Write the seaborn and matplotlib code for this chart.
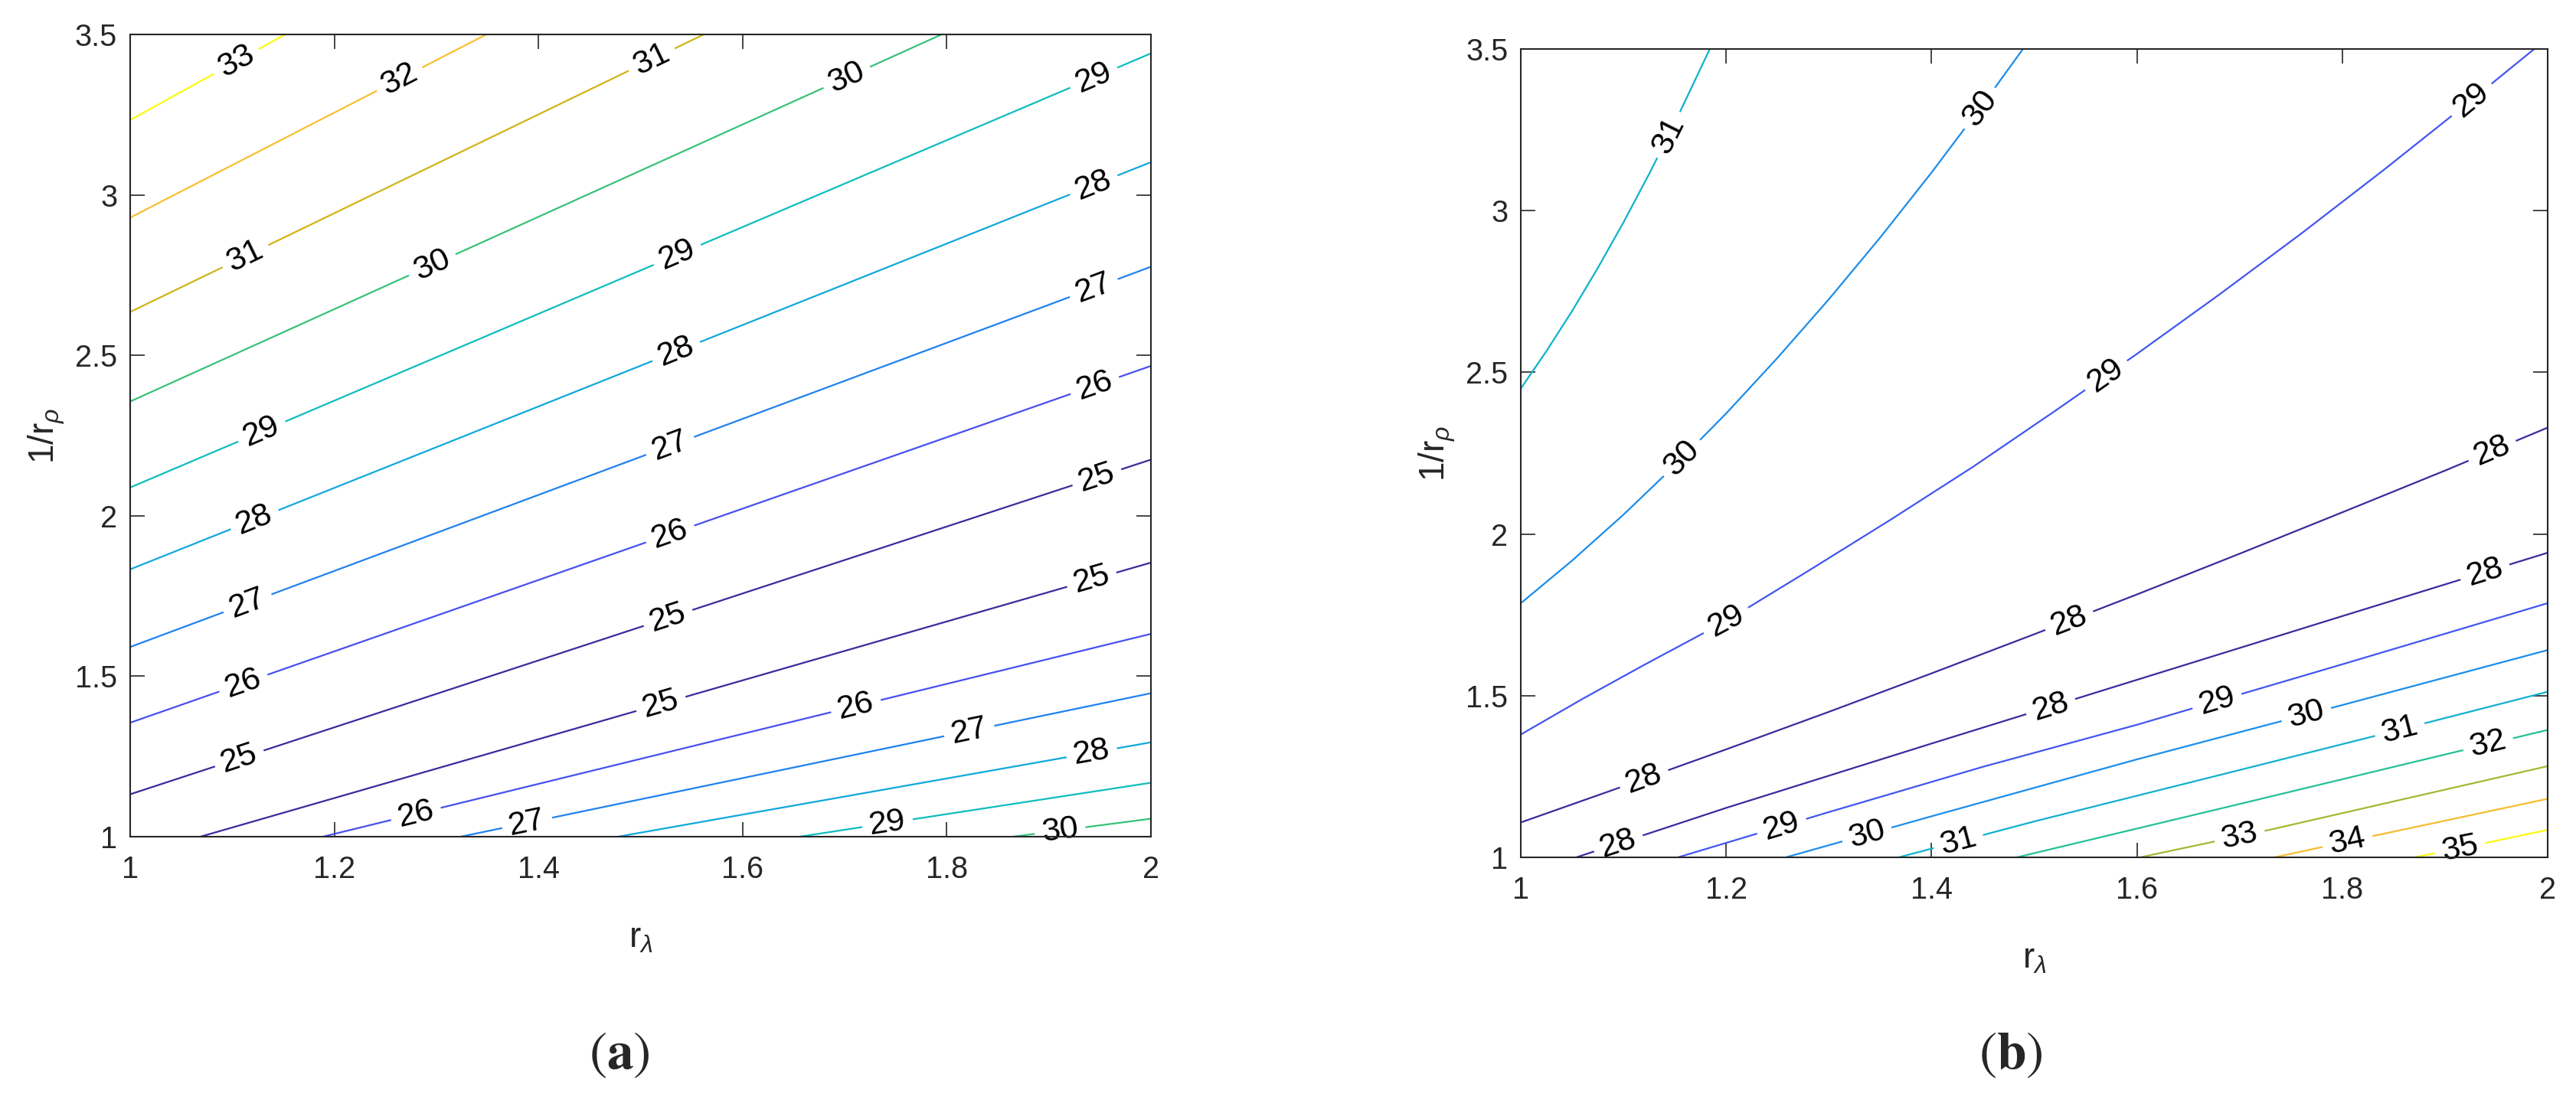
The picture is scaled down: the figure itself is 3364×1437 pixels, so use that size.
import numpy as np
import matplotlib
matplotlib.use("Agg")
import matplotlib.pyplot as plt
import seaborn as sns
from matplotlib.colors import LinearSegmentedColormap, Normalize

# ---- panel (a): contour lines (level, r_lambda, 1/r_rho)
a_levels = [33, 32, 31, 30, 29, 28, 27, 26, 25,
            25, 26, 27, 28, 29, 30]
a_xs = [[1.0, 1.152], [1.0, 1.349], [1.0, 1.562], [1.0, 1.795],
        [1.0, 2.0], [1.0, 2.0], [1.0, 2.0], [1.0, 2.0], [1.0, 2.0],
        [1.069, 2.0], [1.189, 2.0], [1.324, 2.0], [1.478, 2.0],
        [1.656, 2.0], [1.865, 2.0]]
a_ys = [[3.233, 3.5], [2.929, 3.5], [2.635, 3.5], [2.356, 3.5],
        [2.088, 3.441], [1.833, 3.102], [1.591, 2.776], [1.355, 2.467],
        [1.132, 2.175],
        [1.0, 1.854], [1.0, 1.632], [1.0, 1.447], [1.0, 1.294],
        [1.0, 1.168], [1.0, 1.056]]
a_label_x = [[1.104], [1.264], [1.113, 1.511], [1.296, 1.702],
             [1.129, 1.536, 1.944], [1.122, 1.535, 1.944],
             [1.115, 1.529, 1.944], [1.111, 1.529, 1.945],
             [1.107, 1.527, 1.947],
             [1.52, 1.942], [1.28, 1.711], [1.389, 1.822], [1.942],
             [1.742], [1.911]]

# ---- panel (b)
b_levels = [31, 30, 29, 28, 28, 29, 30, 31, 32, 33, 34, 35]
b_xs = [[1.0, 1.025, 1.05, 1.075, 1.1, 1.125, 1.15, 1.184],
        [1.0, 1.05, 1.1, 1.15, 1.2, 1.25, 1.3, 1.35, 1.4, 1.45, 1.489],
        [1.0, 1.06, 1.12, 1.2, 1.28, 1.36, 1.44, 1.52, 1.6, 1.68, 1.76,
         1.84, 1.92, 1.987],
        [1.0, 1.1, 1.2, 1.3, 1.4, 1.5, 1.6, 1.7, 1.8, 1.9, 2.0],
        [1.054, 1.2, 1.4, 1.6, 1.8, 2.0],
        [1.153, 1.3, 1.45, 1.6, 1.8, 2.0],
        [1.258, 1.4, 1.6, 1.8, 2.0],
        [1.368, 1.5, 1.7, 1.85, 2.0],
        [1.483, 1.7, 1.9, 2.0],
        [1.603, 1.729, 2.0],
        [1.734, 1.830, 2.0],
        [1.870, 1.915, 2.0]]
b_ys = [[2.45, 2.566, 2.69, 2.823, 2.964, 3.114, 3.272, 3.5],
        [1.786, 1.918, 2.06, 2.212, 2.373, 2.545, 2.726, 2.917, 3.118,
         3.329, 3.5],
        [1.38, 1.49, 1.595, 1.731, 1.886, 2.044, 2.207, 2.38, 2.557,
         2.74, 2.929, 3.125, 3.327, 3.5],
        [1.108, 1.22, 1.334, 1.45, 1.569, 1.69, 1.813, 1.939, 2.067,
         2.196, 2.329],
        [1.0, 1.153, 1.352, 1.549, 1.746, 1.942],
        [1.0, 1.14, 1.28, 1.41, 1.597, 1.786],
        [1.0, 1.127, 1.303, 1.471, 1.641],
        [1.0, 1.111, 1.27, 1.39, 1.512],
        [1.0, 1.165, 1.318, 1.394],
        [1.0, 1.085, 1.282],
        [1.0, 1.066, 1.181],
        [1.0, 1.028, 1.085]]
b_label_x = [[1.144], [1.157, 1.447], [1.2, 1.57, 1.926],
             [1.12, 1.534, 1.946], [1.095, 1.516, 1.939],
             [1.254, 1.678], [1.337, 1.765], [1.426, 1.856],
             [1.942], [1.70], [1.805], [1.915]]

x_ticks = [1, 1.2, 1.4, 1.6, 1.8, 2]
x_ticklabels = ["1", "1.2", "1.4", "1.6", "1.8", "2"]
y_ticks = [1, 1.5, 2, 2.5, 3, 3.5]
y_ticklabels = ["1", "1.5", "2", "2.5", "3", "3.5"]

# parula-like colours
parula = LinearSegmentedColormap.from_list("parula_like", [
    (0.0, "#3B2A9C"), (0.125, "#4650F0"), (0.25, "#1F82EE"),
    (0.375, "#10A8DC"), (0.5, "#0FBDBE"), (0.625, "#35C27C"),
    (0.75, "#D0B416"), (0.875, "#F9BE31"), (1.0, "#F9FB0E")])

sns.set_theme(style="ticks")
plt.rcParams["font.family"] = ["Liberation Sans", "DejaVu Sans"]
plt.rcParams["mathtext.fontset"] = "custom"
plt.rcParams["mathtext.rm"] = "Liberation Sans"
plt.rcParams["mathtext.it"] = "Liberation Sans:italic"
plt.rcParams["xtick.direction"] = "in"
plt.rcParams["ytick.direction"] = "in"
plt.rcParams["xtick.top"] = True
plt.rcParams["ytick.right"] = True

axcol = "#262626"
fig = plt.figure(figsize=(33.64, 14.37), dpi=100)
ax_a = fig.add_axes([0.0505, 0.2394, 0.3963, 0.7293])
ax_b = fig.add_axes([0.5904, 0.2206, 0.3986, 0.7349])


def draw_panel(ax, levels, xs_list, ys_list, label_xs):
    norm = Normalize(min(levels), max(levels))
    for lev, xs, ys, lxs in zip(levels, xs_list, ys_list, label_xs):
        xs = np.asarray(xs)
        ys = np.asarray(ys)
        col = parula(norm(lev))
        sns.lineplot(x=xs, y=ys, sort=False, estimator=None, color=col,
                     linewidth=1.6, ax=ax, legend=False)
        for lx in lxs:
            ly = np.interp(lx, xs, ys)
            i = int(np.clip(np.searchsorted(xs, lx), 1, len(xs) - 1))
            ang = np.degrees(np.arctan2(ys[i] - ys[i - 1], xs[i] - xs[i - 1]))
            ax.text(lx, ly, str(lev), rotation=ang, transform_rotates_text=True,
                    rotation_mode="anchor", ha="center", va="center",
                    fontsize=31, color="black", zorder=2.4, clip_on=False,
                    bbox=dict(boxstyle="square,pad=0.22", fc="white", ec="none"))
    ax.set_xlim(1, 2)
    ax.set_ylim(1, 3.5)
    ax.set_xticks(x_ticks, x_ticklabels)
    ax.set_yticks(y_ticks, y_ticklabels)
    ax.tick_params(length=14, width=1.2, colors=axcol, labelsize=28.5)
    ax.tick_params(axis="x", pad=17)
    ax.tick_params(axis="y", pad=12)
    for s in ax.spines.values():
        s.set_color(axcol)
        s.set_linewidth(1.5)
        s.set_zorder(2.5)
    ax.set_xlabel(r"r$_{\lambda}$", fontsize=33, color=axcol)
    ax.set_ylabel(r"1/r$_{\rho}$", fontsize=33, color=axcol)
    ax.xaxis.set_label_coords(0.5, -0.105)
    ax.yaxis.set_label_coords(-0.062, 0.5)


draw_panel(ax_a, a_levels, a_xs, a_ys, a_label_x)
draw_panel(ax_b, b_levels, b_xs, b_ys, b_label_x)

fig.text(0.2405, 0.041, r"$(\mathbf{a})$", ha="center", va="center",
         fontsize=50, math_fontfamily="stix")
fig.text(0.7806, 0.041, r"$(\mathbf{b})$", ha="center", va="center",
         fontsize=50, math_fontfamily="stix")

fig.savefig("out.png", dpi=100, facecolor="white")
